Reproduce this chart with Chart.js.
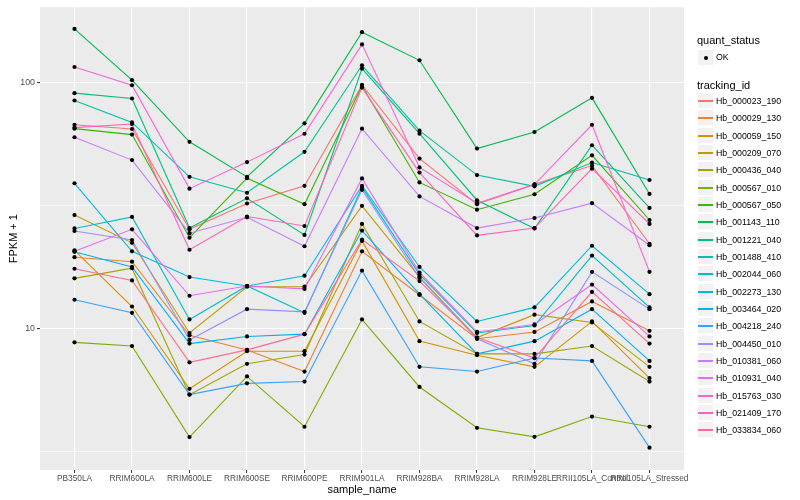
<!DOCTYPE html>
<html>
<head>
<meta charset="utf-8">
<script src="https://cdn.jsdelivr.net/npm/chart.js@4.4.0/dist/chart.umd.min.js"></script>
<style>
  body { margin: 0; background: #fff; font-family: "Liberation Sans", Arial, sans-serif; }
  #wrap { position: relative; width: 800px; height: 500px; }
  #chartBox { position: absolute; left: 0; top: 0; width: 800px; height: 500px; }
  .lg-title { position: absolute; left: 697px; font-size: 11px; line-height: 13px; color: #000; white-space: nowrap; }
  .lg-key { position: absolute; left: 697px; width: 17px; height: 17px; background: #f2f2f2; box-sizing: border-box; border: 1px solid #fff; }
  .lg-line { position: absolute; left: 0px; right: 0px; top: 7px; height: 1.5px; }
  .lg-dot { position: absolute; left: 5.5px; top: 5.5px; width: 4px; height: 4px; border-radius: 50%; background: #000; }
  .lg-text { position: absolute; left: 716px; font-size: 8.8px; line-height: 10px; color: #000; white-space: nowrap; }
</style>
</head>
<body>
<div id="wrap">
  <div id="chartBox"><canvas id="chart"></canvas></div>
  <div id="legend"></div>
</div>
<script>
// samples on the x axis
const categories = ['PB350LA', 'RRIM600LA', 'RRIM600LE', 'RRIM600SE', 'RRIM600PE', 'RRIM901LA',
  'RRIM928BA', 'RRIM928LA', 'RRIM928LE', 'RRII105LA_Control', 'RRII105LA_Stressed'];

// FPKM + 1
const hb000023_190 = [67.2, 64.6, 25.3, 32.2, 38.0, 97.5, 49.0, 32.0, 38.5, 45.9, 22.1];
const hb000029_130 = [19.5, 18.7, 9.4, 8.2, 6.7, 20.6, 13.7, 9.1, 9.7, 12.9, 9.8];
const hb000059_150 = [20.8, 12.3, 5.7, 8.1, 8.1, 22.7, 8.9, 7.8, 7.0, 10.7, 6.3];
const hb000209_070 = [28.9, 22.3, 9.6, 14.8, 14.8, 31.5, 16.2, 9.2, 11.4, 10.6, 7.0];
const hb000436_040 = [16.0, 17.6, 5.4, 7.2, 7.85, 26.6, 10.7, 7.9, 7.9, 8.5, 6.1];
const hb000567_010 = [8.8, 8.5, 3.63, 6.4, 4.0, 10.9, 5.8, 3.96, 3.64, 4.4, 4.0];
const hb000567_050 = [64.8, 61.3, 23.4, 40.8, 32.0, 96.6, 39.2, 30.4, 35.1, 50.5, 27.6];
const hb001143_110 = [164.6, 101.9, 57.3, 41.3, 68.1, 159.6, 122.7, 53.8, 62.8, 86.4, 35.2];
const hb001221_040 = [90.3, 85.9, 25.6, 33.8, 24.0, 113.5, 61.8, 33.2, 25.5, 55.5, 30.9];
const hb001488_410 = [84.3, 68.7, 41.3, 35.6, 52.2, 117.1, 63.6, 42.0, 37.8, 47.2, 40.1];
const hb002044_060 = [25.5, 28.4, 10.9, 14.9, 11.6, 37.4, 16.6, 9.6, 10.3, 19.8, 12.2];
const hb002273_130 = [38.9, 20.6, 16.2, 14.9, 16.4, 38.0, 17.8, 10.7, 12.2, 21.7, 13.8];
const hb003464_020 = [20.5, 17.8, 8.7, 9.3, 9.5, 25.0, 13.8, 7.9, 8.9, 12.0, 7.4];
const hb004218_240 = [13.1, 11.6, 5.4, 6.0, 6.1, 17.2, 7.0, 6.7, 7.6, 7.4, 3.29];
const hb004450_010 = [24.9, 22.9, 9.0, 12.0, 11.7, 36.6, 16.1, 9.1, 7.2, 17.0, 12.0];
const hb010381_060 = [59.8, 48.3, 24.4, 28.3, 21.6, 64.8, 34.4, 25.6, 28.1, 32.3, 21.8];
const hb010931_040 = [20.6, 25.3, 13.6, 14.9, 14.5, 40.7, 16.9, 9.7, 10.4, 15.1, 9.3];
const hb015763_030 = [115.3, 97.2, 37.0, 47.4, 61.8, 142.4, 45.1, 32.3, 38.5, 67.2, 17.0];
const hb021409_170 = [65.4, 67.7, 20.9, 28.5, 26.1, 95.1, 43.0, 23.9, 25.6, 44.6, 26.6];
const hb033834_060 = [17.5, 15.7, 7.3, 8.2, 9.5, 23.0, 15.6, 9.2, 7.6, 14.1, 8.7];

const trackingIds = ['Hb_000023_190', 'Hb_000029_130', 'Hb_000059_150', 'Hb_000209_070', 'Hb_000436_040',
  'Hb_000567_010', 'Hb_000567_050', 'Hb_001143_110', 'Hb_001221_040', 'Hb_001488_410', 'Hb_002044_060',
  'Hb_002273_130', 'Hb_003464_020', 'Hb_004218_240', 'Hb_004450_010', 'Hb_010381_060', 'Hb_010931_040',
  'Hb_015763_030', 'Hb_021409_170', 'Hb_033834_060'];
const seriesValues = [hb000023_190, hb000029_130, hb000059_150, hb000209_070, hb000436_040,
  hb000567_010, hb000567_050, hb001143_110, hb001221_040, hb001488_410, hb002044_060,
  hb002273_130, hb003464_020, hb004218_240, hb004450_010, hb010381_060, hb010931_040,
  hb015763_030, hb021409_170, hb033834_060];
const quantStatus = ['OK'];

const yTicks = [10, 100];
const yMinor = [3.1623, 31.623];

// ggplot default hue palette, 20 levels
const hues = ['#F8766D', '#EA8331', '#D89000', '#C09B00', '#A3A500', '#7CAE00', '#39B600', '#00BB4E',
  '#00BF7D', '#00C1A3', '#00BFC4', '#00BAE0', '#00B0F6', '#35A2FF', '#9590FF', '#C77CFF', '#E76BF3',
  '#FA62DB', '#FF62BC', '#FF6C91'];

const FONT = '"Liberation Sans", Arial, sans-serif';

const panelBg = {
  id: 'panelBg',
  beforeDraw(chart) {
    const { ctx, chartArea: a } = chart;
    ctx.save();
    ctx.fillStyle = '#ebebeb';
    ctx.fillRect(a.left, a.top, a.right - a.left, a.bottom - a.top);
    ctx.restore();
  }
};

const toXY = vals => vals.map((v, j) => ({ x: j, y: v }));

const lineSets = trackingIds.map((id, i) => ({
  label: id,
  data: toXY(seriesValues[i]),
  borderColor: hues[i],
  borderWidth: 1.1,
  pointRadius: 0,
  fill: false,
  tension: 0,
  order: 100 - i
}));
const pointSets = trackingIds.map((id, i) => ({
  label: id + ' ' + quantStatus[0],
  data: toXY(seriesValues[i]),
  showLine: false,
  pointRadius: 2.1,
  pointBackgroundColor: '#000',
  pointBorderWidth: 0,
  order: 0
}));

const isMajor = v => yTicks.some(t => Math.abs(t - v) < 1e-6);

new Chart(document.getElementById('chart'), {
  type: 'line',
  data: { datasets: lineSets.concat(pointSets) },
  plugins: [panelBg],
  options: {
    responsive: true,
    maintainAspectRatio: false,
    animation: false,
    layout: { padding: { left: 0, top: 5, right: 116, bottom: 0 } },
    plugins: { legend: { display: false }, tooltip: { enabled: false } },
    scales: {
      x: {
        type: 'linear',
        min: -0.6,
        max: 10.6,
        afterBuildTicks: s => { s.ticks = categories.map((c, i) => ({ value: i })); },
        afterFit: s => { s.height = 30; },
        ticks: {
          autoSkip: false, maxRotation: 0, minRotation: 0, padding: 1,
          color: '#4d4d4d', font: { size: 8.3, family: FONT },
          callback: v => categories[v]
        },
        grid: { color: '#fff', lineWidth: 1.1, tickColor: '#333', tickLength: 3, tickWidth: 1 },
        border: { display: false },
        title: { display: true, text: 'sample_name', color: '#000', font: { size: 11, family: FONT }, padding: { top: 0, bottom: 3 } }
      },
      y: {
        type: 'logarithmic',
        min: 2.67,
        max: 201.4,
        afterBuildTicks: s => { s.ticks = yMinor.concat(yTicks).sort((a, b) => a - b).map(v => ({ value: v })); },
        afterFit: s => { s.width = 40; },
        ticks: {
          padding: 2, color: '#4d4d4d', font: { size: 8.8, family: FONT },
          callback: v => isMajor(v) ? String(v) : ''
        },
        grid: {
          color: '#fff',
          lineWidth: c => isMajor(c.tick.value) ? 1.1 : 0.55,
          tickColor: c => isMajor(c.tick.value) ? '#333' : 'rgba(0,0,0,0)',
          tickLength: 3
        },
        border: { display: false },
        title: { display: true, text: 'FPKM + 1', color: '#000', font: { size: 11, family: FONT }, padding: { top: 7, bottom: 0 } }
      }
    }
  }
});

// legend, ggplot style
const lg = document.getElementById('legend');
function add(cls, css, text) {
  const d = document.createElement('div');
  d.className = cls;
  Object.assign(d.style, css);
  if (text) d.textContent = text;
  lg.appendChild(d);
  return d;
}
add('lg-title', { top: '34px' }, 'quant_status');
const k0 = add('lg-key', { top: '49px' });
k0.appendChild(Object.assign(document.createElement('div'), { className: 'lg-dot' }));
add('lg-text', { top: '52px' }, quantStatus[0]);
add('lg-title', { top: '78.5px' }, 'tracking_id');
trackingIds.forEach((id, i) => {
  const top = Math.round(92 + i * 17.33);
  const k = add('lg-key', { top: top + 'px' });
  const ln = document.createElement('div');
  ln.className = 'lg-line';
  ln.style.background = hues[i];
  k.appendChild(ln);
  add('lg-text', { top: (top + 4) + 'px' }, id);
});
</script>
</body>
</html>
